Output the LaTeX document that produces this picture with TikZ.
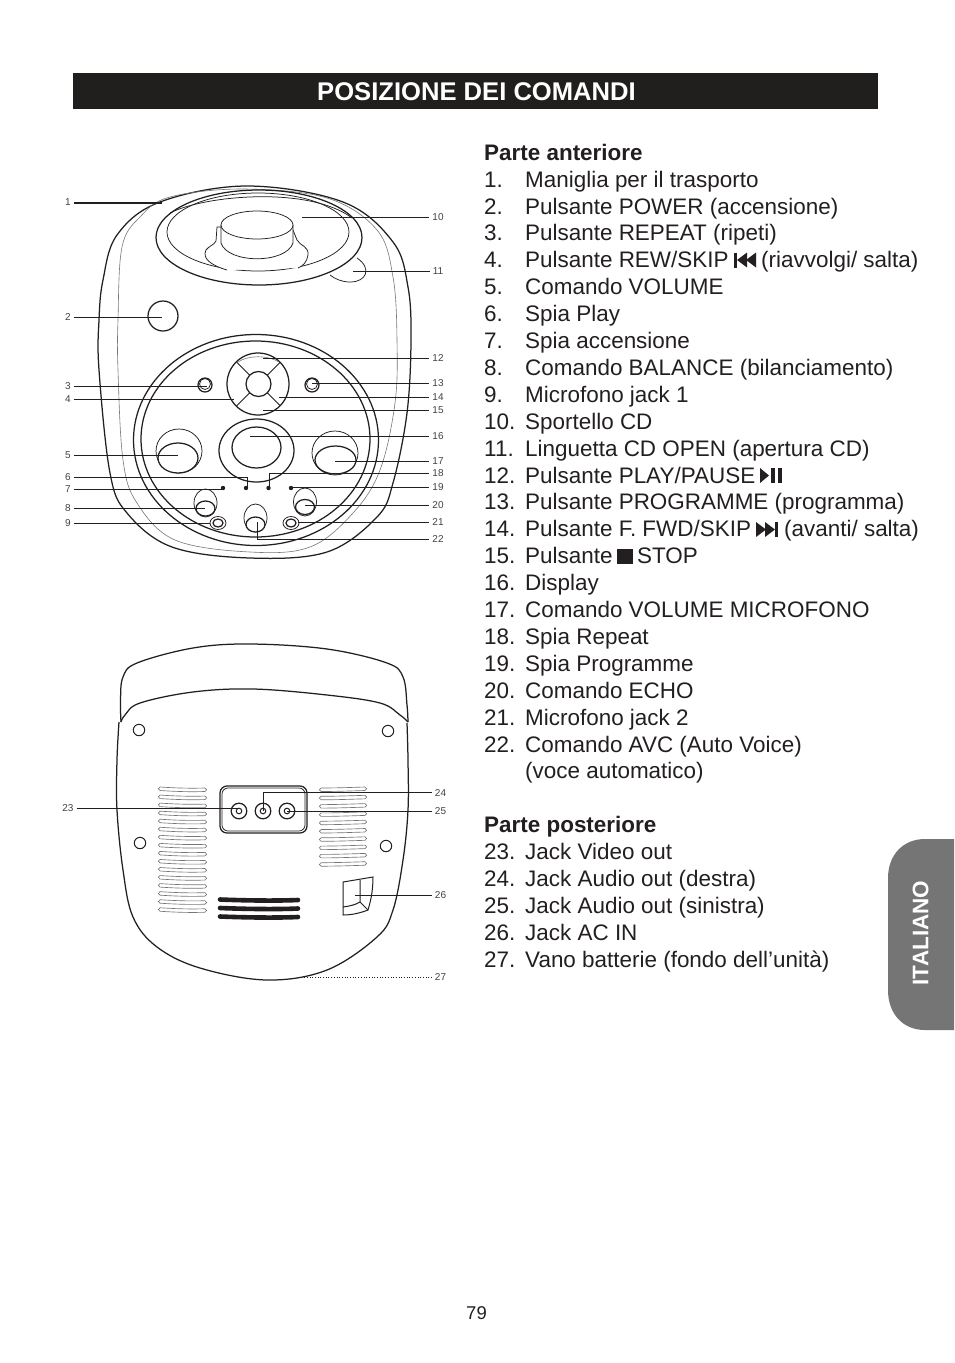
\documentclass[tikz,border=0pt]{standalone}
\usepackage{fontspec}
\setmainfont{Liberation Sans}
\definecolor{ink}{HTML}{231F20}
\definecolor{tabgray}{HTML}{757575}
\definecolor{thin}{HTML}{777777}
\newcommand\LL[3]{\node[lab] (l#1) at (68,#2) {#1}; \coordinate (t#1) at (#3,#2); \draw[leader] (l#1.east) -- (t#1);}
\newcommand\RR[4]{\node[lab] (l#1) at (#4,#2) {#1}; \coordinate (t#1) at (#3,#2); \draw[leader] (l#1.west) -- (t#1);}
\newcommand\Line[2]{\node[item] at (484,160.2+26.9*#1) {#2};}
\newcommand\Txt[3]{\node[item] at (#1,160.2+26.9*#2) {#3};}
\tikzset{
  lab/.style={font=\fontsize{10}{10}\selectfont,text=ink!85,inner sep=3pt},
  leader/.style={draw=ink,line width=0.8pt},
  outline/.style={draw=ink,line width=1.25pt},
  fine/.style={draw=ink,line width=0.75pt},
  faint/.style={draw=thin,line width=0.6pt},
  vent/.style={draw=thin,line width=0.65pt},
  item/.style={anchor=base west,inner sep=0pt,text=ink,font=\fontsize{22.45}{27}\selectfont},
  head/.style={item,font=\fontsize{22.45}{27}\selectfont\bfseries},
  icon/.style={fill=ink,draw=none}
}
\begin{document}
\begin{tikzpicture}[x=1pt,y=-1pt]
\useasboundingbox (0,0) rectangle (954,1363);
\fill[white] (0,0) rectangle (954,1363);
% header
\fill[ink!95!black] (73,73) rectangle (878,109);
\node[text=white,font=\fontsize{25.6}{25}\selectfont\bfseries,inner sep=0pt] (title) at (476.5,91.7) {POSIZIONE DEI COMANDI};
% side tab
\fill[tabgray] (954,839) -- (925,839) .. controls (903,839) and (888,855) .. (888,878) -- (888,990) .. controls (888,1014) and (903,1030) .. (925,1030) -- (954,1030) -- cycle;
\node[rotate=90,text=white,font=\fontsize{22.5}{22.5}\selectfont\bfseries,inner sep=0pt] (tab) at (920.5,933) {ITALIANO};
\node[text=ink,font=\fontsize{18.5}{18.5}\selectfont,inner sep=0pt] (page) at (476.5,1313.5) {79};
% FRONT body
\draw[outline] plot[smooth cycle,tension=0.6] coordinates {(250,558)(327,552)(377,517)(393,483)(407,413)(411,340)(408,287)(393,242)(343,202)(247,186)(160,202)(117,235)(103,280)(99,320)(99,370)(110,473)(127,513)(172,547)};
\draw[faint] plot[smooth cycle,tension=0.6] coordinates {(250,552)(310,547)(353,513)(380,470)(395,403)(397,340)(393,277)(377,230)(327,198)(243,189)(170,197)(140,217)(122,247)(118,320)(118,370)(123,460)(137,503)(175,540)};
% CD tab
\draw[fine,fill=white] (357,258) .. controls (372,268) and (367,282) .. (350,282) .. controls (342,282) and (335,279) .. (330,275);
% speaker
\draw[outline,fill=white] (259,237.5) ellipse (103pt and 47.5pt);
\draw[fine] (170,213) .. controls (205,195) and (310,186) .. (352,218);
\draw[fine] (258,232) ellipse (91pt and 39pt);
\draw[fine,fill=white] (227,270) .. controls (210,265) and (202,258) .. (206,250) .. controls (209,246) and (214,245) .. (216,241) -- (217,227) -- (293,230) -- (297,240) .. controls (300,246) and (309,246) .. (308,255) .. controls (307,262) and (303,266) .. (298,268);
\draw[fine,fill=white] (221,225) -- (221,243) .. controls (228,264) and (286,264) .. (293,243) -- (293,225);
\draw[fine,fill=white] (257,225) ellipse (36pt and 14pt);
% power
\draw[outline] (163,316) circle (15pt);
% panel
\draw[outline] (256,440) ellipse (122.5pt and 105.5pt);
\draw[outline] (255.5,439) ellipse (114.5pt and 98pt);
% d-pad
\draw[outline] (258,384) circle (31pt);
\draw[outline] (258.5,384) circle (12.5pt);
\foreach \a in {45,135,225,315}{\draw[fine] (258.5,384) ++(\a:12.5pt) -- ++(\a:18.5pt);}
\draw[faint] (238,362) .. controls (248,355) and (268,355) .. (279,362);
% side buttons
\foreach \p in {205,312}{
  \draw[outline] (\p,385) circle (7pt);
  \draw[fine] (\p,384) circle (5.5pt);
}
% display
\draw[outline] (256.5,450.5) ellipse (37.5pt and 31.5pt);
\draw[outline] (256.5,447.5) ellipse (24.5pt and 20.5pt);
% big knobs
\draw[fine,fill=white] (179,451) ellipse (23pt and 22pt);
\draw[outline,fill=white] (178,458) ellipse (20pt and 15pt);
\draw[fine,fill=white] (335,453) ellipse (23pt and 22pt);
\draw[outline,fill=white] (335.5,460) ellipse (20.5pt and 14pt);
% LEDs
\foreach \p in {223,246,268.5,291}{\fill[ink] (\p,488) circle (2.2pt);}
% small knobs
\foreach \p/\q/\r in {205.5/503/508.5,305/502/507,255.5/518/524.5}{
  \draw[fine,fill=white] (\p,\q) ellipse (11.5pt and 14pt);
  \draw[outline,fill=white] (\p,\r) ellipse (9.5pt and 7.5pt);
}
% mic jacks
\foreach \p in {218,291}{
  \draw[fine] (\p,523) ellipse (8pt and 6.5pt);
  \draw[outline] (\p,523) ellipse (5pt and 4pt);
}
% front leaders
\LL{1}{202.5}{162}
\draw[line width=2pt,draw=ink] (l1.east) -- (t1);
\LL{2}{317.5}{162}
\LL{3}{386.5}{207}
\LL{4}{399.5}{234}
\LL{5}{455.5}{178}
\node[lab] (l6) at (68,477.5) {6}; \coordinate (t6) at (247,488); \draw[leader] (l6.east) -- (247,477.5) -- (t6);
\LL{7}{489.5}{223}
\LL{8}{508.5}{205}
\LL{9}{523.5}{210}
\RR{10}{217}{302}{438}
\RR{11}{271.5}{353}{438}
\RR{12}{358}{263}{438}
\RR{13}{383}{312}{438}
\RR{14}{397}{279}{438}
\RR{15}{410.5}{263}{438}
\RR{16}{436}{250}{438}
\RR{17}{461}{335}{438}
\node[lab] (l18) at (438,473) {18}; \coordinate (t18) at (269,488); \draw[leader] (l18.west) -- (269,473) -- (t18);
\RR{19}{487.5}{291}{438}
\RR{20}{505}{305}{438}
\RR{21}{522}{298}{438}
\node[lab] (l22) at (438,539) {22}; \coordinate (t22) at (257,522); \draw[leader] (l22.west) -- (257,539) -- (t22);
% BACK
\draw[outline] plot[smooth,tension=0.6] coordinates {(119,722)(117,760)(117,810)(123,870)(133,917)(157,947)(200,968)(267,980)(327,970)(377,937)(393,910)(403,860)(408,810)(408,760)(407,723)};
\draw[outline] plot[smooth,tension=0.6] coordinates {(121,722)(120.5,700)(123,677)(137,663)(193,648)(250,644)(327,649)(387,663)(403,677)(407,705)(408,722)};
\draw[outline] plot[smooth,tension=0.6] coordinates {(121,722)(125,715)(140,703)(193,692)(253,689)(327,695)(380,703)(400,715)(408,722)};
\foreach \p/\q in {139/730,388/731,140/843,386/846}{\draw[fine,line width=1pt] (\p,\q) circle (5.7pt);}
% vents
\foreach \i in {0,...,15}{
  \pgfmathsetmacro\yy{787+\i*8.05}
  \draw[vent] (160,\yy) .. controls (175,\yy+1) and (190,\yy+1.5) .. (205,\yy+1) to[out=0,in=0,looseness=1.6] (205,\yy+4.5) .. controls (190,\yy+5) and (175,\yy+4.5) .. (160,\yy+3.5) to[out=180,in=180,looseness=1.6] (160,\yy);
}
\foreach \i in {0,...,9}{
  \pgfmathsetmacro\yy{787+\i*8.3}
  \draw[vent] (321,\yy+1) .. controls (335,\yy+1) and (350,\yy+0.5) .. (365,\yy) to[out=0,in=0,looseness=1.6] (365,\yy+3.5) .. controls (350,\yy+4) and (335,\yy+4.5) .. (321,\yy+4.5) to[out=180,in=180,looseness=1.6] (321,\yy+1);
}
% ports
\draw[outline,rounded corners=7pt] (220,786) rectangle (307,833);
\draw[fine,rounded corners=6pt] (222,788) rectangle (305,831);
\foreach \p in {239,263,287}{
  \draw[outline] (\p,811) circle (7.8pt);
  \draw[fine,line width=1pt] (\p,811) circle (2.8pt);
}
% bottom slot
\foreach \q in {899.5,908,916.5}{\draw[draw=ink,line width=4.6pt,line cap=round] (220,\q) .. controls (245,\q+1) and (275,\q+1.5) .. (298,\q+0.5);}
% AC socket
\draw[fine,line width=1pt] (343,882) -- (373,877) .. controls (373,890) and (371,900) .. (368,910) .. controls (360,913) and (352,915) .. (343,915) -- cycle;
\draw[fine,line width=1pt] (360,880) -- (360,902) -- (368,910);
\draw[fine,line width=1pt] (360,902) .. controls (355,905) and (350,906) .. (343,907);
% back leaders
\node[lab] (l23) at (68,808) {23}; \coordinate (t23) at (239,808); \draw[leader] (l23.east) -- (t23);
\node[lab] (l24) at (440.5,792.5) {24}; \coordinate (t24) at (263,811); \draw[leader] (l24.west) -- (263,792.5) -- (t24);
\RR{25}{811}{287}{440.5}
\RR{26}{895}{355}{440.5}
\node[lab] (l27) at (440.5,977) {27}; \coordinate (t27) at (300,977); \draw[draw=ink,line width=0.7pt,dotted] (l27.west) -- (t27);
% TEXT
\node[head] at (484,160.2) {Parte anteriore};
\foreach \n/\s [count=\k] in {{1.}/{Maniglia per il trasporto},{2.}/{Pulsante POWER (accensione)},{3.}/{Pulsante REPEAT (ripeti)},{4.}/{Pulsante REW/SKIP},{5.}/{Comando VOLUME},{6.}/{Spia Play},{7.}/{Spia accensione},{8.}/{Comando BALANCE (bilanciamento)},{9.}/{Microfono jack 1},{10.}/{Sportello CD},{11.}/{Linguetta CD OPEN (apertura CD)},{12.}/{Pulsante PLAY/PAUSE},{13.}/{Pulsante PROGRAMME (programma)},{14.}/{Pulsante F. FWD/SKIP},{15.}/{Pulsante},{16.}/{Display},{17.}/{Comando VOLUME MICROFONO},{18.}/{Spia Repeat},{19.}/{Spia Programme},{20.}/{Comando ECHO},{21.}/{Microfono jack 2},{22.}/{Comando AVC (Auto Voice)}}{
  \Line{\k}{\n}
  \Txt{525}{\k}{\s}
}
\Txt{525}{23}{(voce automatico)}
\Txt{761}{4}{(riavvolgi/ salta)}
\Txt{784}{14}{(avanti/ salta)}
\Txt{637}{15}{STOP}
\node[head] at (484,160.2+26.9*25) {Parte posteriore};
\foreach \n/\s [count=\k from 26] in {{23.}/{Jack Video out},{24.}/{Jack Audio out (destra)},{25.}/{Jack Audio out (sinistra)},{26.}/{Jack AC IN},{27.}/{Vano batterie (fondo dell’unità)}}{
  \Line{\k}{\n}
  \Txt{525}{\k}{\s}
}
% icons
\fill[icon] (734,252.5) rectangle (737,267.5);
\fill[icon] (747,252.5) -- (737,260) -- (747,267.5) -- cycle;
\fill[icon] (756,252.5) -- (746,260) -- (756,267.5) -- cycle;
\fill[icon] (760,468) -- (769,475.5) -- (760,483) -- cycle;
\fill[icon] (771,468) rectangle (775,483);
\fill[icon] (777.5,468) rectangle (781.5,483);
\fill[icon] (756,522) -- (766,529.5) -- (756,537) -- cycle;
\fill[icon] (765,522) -- (775,529.5) -- (765,537) -- cycle;
\fill[icon] (775,522) rectangle (778,537);
\fill[icon] (617,549) rectangle (633,564);
\end{tikzpicture}
\end{document}
